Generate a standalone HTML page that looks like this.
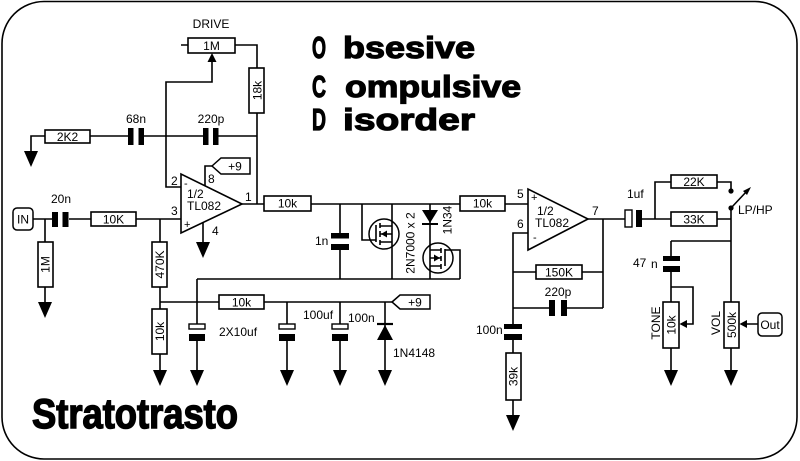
<!DOCTYPE html>
<html><head><meta charset="utf-8"><style>
html,body{margin:0;padding:0;background:#fff;}
svg{display:block;}
.w{stroke:#000;stroke-width:1.6;fill:none;}
.r{fill:#fff;stroke:#000;stroke-width:1.6;}
.f{fill:#000;stroke:none;}
text{font-family:"Liberation Sans",Arial,sans-serif;font-size:12px;fill:#000;}
.t{font-family:"Liberation Sans",Arial,sans-serif;font-weight:bold;font-size:31px;stroke:#000;stroke-width:1.2;}
</style></head><body>
<svg width="800" height="461" viewBox="0 0 800 461" xmlns="http://www.w3.org/2000/svg">
<rect x="2" y="1.5" width="795" height="457.5" rx="42" fill="none" stroke="#000" stroke-width="1.6"/>

<!-- Title -->
<text class="t" x="312" y="58" textLength="14" lengthAdjust="spacingAndGlyphs">O</text>
<text class="t" x="343" y="58" textLength="132" lengthAdjust="spacingAndGlyphs">bsesive</text>
<text class="t" x="312" y="97" textLength="14" lengthAdjust="spacingAndGlyphs">C</text>
<text class="t" x="345" y="97" textLength="176" lengthAdjust="spacingAndGlyphs">ompulsive</text>
<text class="t" x="312" y="130" textLength="14" lengthAdjust="spacingAndGlyphs">D</text>
<text class="t" x="343" y="130" textLength="132" lengthAdjust="spacingAndGlyphs">isorder</text>
<text class="t" x="32" y="428" textLength="206" lengthAdjust="spacingAndGlyphs" style="font-size:42px;stroke-width:1.5">Stratotrasto</text>

<!-- DRIVE pot & feedback -->
<text x="211" y="28" text-anchor="middle">DRIVE</text>
<path class="w" d="M181 45 H188 M235 45 H257 V68 M257 113 V204"/>
<rect class="r" x="188" y="38" width="47" height="15"/>
<text x="211.5" y="50" text-anchor="middle">1M</text>
<rect class="r" x="249" y="68" width="15" height="45"/>
<text transform="translate(261.5,90.5) rotate(-90)" text-anchor="middle">18k</text>
<path class="w" d="M181 187 H166 V82 H212 V60"/>
<polygon class="f" points="212,53 207.5,62 216.5,62"/>

<path class="w" d="M31 151 V136 H45 M90 136 H128 M144 136 H203 M218 136 H257"/>
<rect class="r" x="45" y="130" width="45" height="13"/>
<text x="67.5" y="141" text-anchor="middle">2K2</text>
<rect class="f" x="128" y="128" width="5.5" height="17"/>
<rect class="f" x="138.5" y="128" width="5.5" height="17"/>
<text x="136" y="123" text-anchor="middle">68n</text>
<rect class="f" x="203" y="128" width="5.5" height="17"/>
<rect class="f" x="213" y="128" width="5.5" height="17"/>
<text x="211" y="123" text-anchor="middle">220p</text>

<!-- Opamp 1 -->
<path class="w" d="M242 204 H264"/>
<polygon points="181,174 181,233 242,204" fill="#fff" stroke="#000" stroke-width="1.6"/>
<text x="184" y="187" style="font-size:11px">-</text>
<text x="184" y="228" style="font-size:11px">+</text>
<text x="187" y="198">1/2</text>
<text x="187" y="210">TL082</text>
<text x="171" y="185">2</text>
<text x="171" y="215">3</text>
<text x="208" y="183">8</text>
<text x="245" y="201">1</text>
<text x="212" y="235">4</text>
<path class="w" d="M205 186 V166 H212"/>
<polygon points="212,166 221,158 250,158 250,174 221,174" fill="#fff" stroke="#000" stroke-width="1.5"/>
<text x="235" y="170.5" text-anchor="middle">+9</text>
<path class="w" d="M203 222 V242"/>

<!-- Input -->
<rect x="13" y="208" width="20" height="22" rx="4" fill="#fff" stroke="#000" stroke-width="1.5"/>
<text x="23" y="223.5" text-anchor="middle">IN</text>
<path class="w" d="M33 219 H52 M69 219 H91 M136 219 H181 M45 219 V242 M45 287 V302"/>
<rect class="f" x="52" y="212" width="6" height="15"/>
<rect class="f" x="62.5" y="212" width="6" height="15"/>
<text x="61" y="203" text-anchor="middle">20n</text>
<rect class="r" x="91" y="212" width="45" height="14"/>
<text x="113.5" y="223.5" text-anchor="middle">10K</text>
<rect class="r" x="38" y="242" width="15" height="45"/>
<text transform="translate(49.5,264.5) rotate(-90)" text-anchor="middle">1M</text>

<path class="w" d="M160 219 V242 M160 287 V309 M160 354 V370 M160 302 H219 M264 302 H392"/>
<rect class="r" x="152" y="242" width="15" height="45"/>
<text transform="translate(164,264.5) rotate(-90)" text-anchor="middle">470K</text>
<rect class="r" x="152" y="309" width="15" height="45"/>
<text transform="translate(164,331.5) rotate(-90)" text-anchor="middle">10k</text>
<rect class="r" x="219" y="295" width="45" height="14"/>
<text x="241.5" y="306.5" text-anchor="middle">10k</text>
<polygon points="392,302 400,295 430,295 430,309 400,309" fill="#fff" stroke="#000" stroke-width="1.5"/>
<text x="415" y="306.5" text-anchor="middle">+9</text>

<!-- Bias caps -->
<path class="w" d="M197 279 H460 M197 279 V324 M197 341 V370 M287 302 V324 M287 341 V370 M340 302 V324 M340 341 V370"/>
<rect x="189" y="324" width="16" height="5" fill="#fff" stroke="#000" stroke-width="1.4"/>
<rect class="f" x="189" y="334" width="16" height="7"/>
<text x="219" y="336">2X10uf</text>
<rect x="279" y="324" width="16" height="5" fill="#fff" stroke="#000" stroke-width="1.4"/>
<rect class="f" x="279" y="334" width="16" height="7"/>
<rect x="332" y="324" width="16" height="5" fill="#fff" stroke="#000" stroke-width="1.4"/>
<rect class="f" x="332" y="334" width="16" height="7"/>
<text x="303" y="319">100uf</text>
<text x="348" y="322">100n</text>
<path class="w" d="M385 302 V370"/>
<path d="M377 324 H393" stroke="#000" stroke-width="2.2"/>
<polygon class="f" points="377,340 393,340 385,325"/>
<text x="393" y="357">1N4148</text>

<!-- Clipping section -->
<path class="w" d="M311 204 H460 M340 204 V233 M340 250 V279"/>
<rect class="r" x="264" y="196" width="47" height="15"/>
<text x="287.5" y="207.5" text-anchor="middle">10k</text>
<rect class="f" x="331" y="233" width="18" height="5.5"/>
<rect class="f" x="331" y="244" width="18" height="6"/>
<text x="315" y="245">1n</text>

<!-- MOSFET 1 -->
<path class="w" d="M362 204 V240 H376 M392 204 V279"/>
<circle cx="384" cy="234" r="15" fill="none" stroke="#000" stroke-width="1.5"/>
<path class="w" d="M376 225 V242 M380 223 V228 M380 231 V237 M380 240 V245 M380 226 H392 M380 242 H392 M380 234 H392"/>
<polygon class="f" points="381,234 387,230.5 387,237.5"/>
<text transform="translate(414.5,243) rotate(-90)" text-anchor="middle">2N7000 x 2</text>

<!-- Diode 1N34 + MOSFET 2 -->
<path class="w" d="M430 204 V279"/>
<polygon class="f" points="422,210 438,210 430,223"/>
<path d="M422 224 H438" stroke="#000" stroke-width="2"/>
<text transform="translate(451.5,220) rotate(-90)" text-anchor="middle">1N34</text>
<circle cx="438" cy="258" r="15" fill="none" stroke="#000" stroke-width="1.5"/>
<path class="w" d="M445 249 V266 M441 248 V253 M441 256 V261 M441 264 V269 M430 250 H441 M430 266 H441 M430 258 H441 M445 250 H460 V279"/>
<polygon class="f" points="440,258 434,254.5 434,261.5"/>

<!-- Stage 2 -->
<rect class="r" x="460" y="196" width="45" height="15"/>
<text x="482.5" y="207.5" text-anchor="middle">10k</text>
<path class="w" d="M505 204 H528 M528 233 H513 V324 M513 272 H536 M582 272 H603 M588 219 H625 M603 219 V308 M513 308 H549 M567 308 H603 M513 340 V353 M513 400 V415"/>
<polygon points="528,189 528,250 588,219" fill="#fff" stroke="#000" stroke-width="1.6"/>
<text x="531" y="201" style="font-size:11px">+</text>
<text x="533" y="241" style="font-size:11px">-</text>
<text x="537" y="215">1/2</text>
<text x="535" y="227">TL082</text>
<text x="517" y="198">5</text>
<text x="517" y="228">6</text>
<text x="592" y="215">7</text>
<rect class="r" x="536" y="265" width="46" height="14"/>
<text x="559" y="276.5" text-anchor="middle">150K</text>
<rect class="f" x="549" y="300" width="6" height="16"/>
<rect class="f" x="561" y="300" width="6" height="16"/>
<text x="558" y="296" text-anchor="middle">220p</text>
<rect class="f" x="504" y="324" width="18" height="5"/>
<rect class="f" x="504" y="334" width="18" height="6"/>
<text x="476" y="334">100n</text>
<rect class="r" x="506" y="353" width="15" height="47"/>
<text transform="translate(517.5,376.5) rotate(-90)" text-anchor="middle">39k</text>

<!-- Tone / vol section -->
<rect x="625" y="210" width="7" height="17" fill="#fff" stroke="#000" stroke-width="1.4"/>
<rect class="f" x="636" y="210" width="6" height="17"/>
<text x="627" y="198">1uf</text>
<path class="w" d="M642 219 H671 M655 219 V182 H671 M717 182 H731 V190 M717 219 H731 M731 208 V302 M731 348 V370 M671 241 H731 M671 241 V256 M671 272 V302 M671 348 V370 M671 287 H693 V324 H684 M758 324 H745"/>
<rect class="r" x="671" y="175" width="46" height="13"/>
<text x="694" y="186" text-anchor="middle">22K</text>
<rect class="r" x="671" y="212" width="46" height="14"/>
<text x="694" y="223.5" text-anchor="middle">33K</text>
<circle cx="731" cy="191" r="2.6" class="f"/>
<circle cx="731" cy="208" r="2.6" class="f"/>
<path class="w" d="M731 208 L747 191"/>
<polygon class="f" points="751,187 743,191 747,195"/>
<text x="738" y="214">LP/HP</text>
<rect class="f" x="663" y="256" width="17" height="5"/>
<rect class="f" x="663" y="266" width="17" height="6"/>
<text x="633" y="267">47</text>
<text x="651" y="268">n</text>
<rect class="r" x="663" y="302" width="16" height="46"/>
<text transform="translate(675.5,325) rotate(-90)" text-anchor="middle">10k</text>
<text transform="translate(660,323) rotate(-90)" text-anchor="middle">TONE</text>
<polygon class="f" points="679.5,324 687,320 687,328"/>
<rect class="r" x="724" y="302" width="15" height="46"/>
<text transform="translate(736,325) rotate(-90)" text-anchor="middle">500k</text>
<text transform="translate(720,323) rotate(-90)" text-anchor="middle">VOL</text>
<polygon class="f" points="739.5,324 747,320 747,328"/>
<rect x="758" y="313" width="24" height="23" rx="4" fill="#fff" stroke="#000" stroke-width="1.5"/>
<text x="770" y="329" text-anchor="middle">Out</text>

<!-- Grounds -->
<g class="f">
<polygon points="24,151 38,151 31,167"/>
<polygon points="38,302 52,302 45,318"/>
<polygon points="153,370 167,370 160,386"/>
<polygon points="190,370 204,370 197,386"/>
<polygon points="196,242 210,242 203,258"/>
<polygon points="280,370 294,370 287,386"/>
<polygon points="333,370 347,370 340,386"/>
<polygon points="378,370 392,370 385,386"/>
<polygon points="506,415 520,415 513,431"/>
<polygon points="664,370 678,370 671,386"/>
<polygon points="724,370 738,370 731,386"/>
</g>
</svg>
</body></html>
